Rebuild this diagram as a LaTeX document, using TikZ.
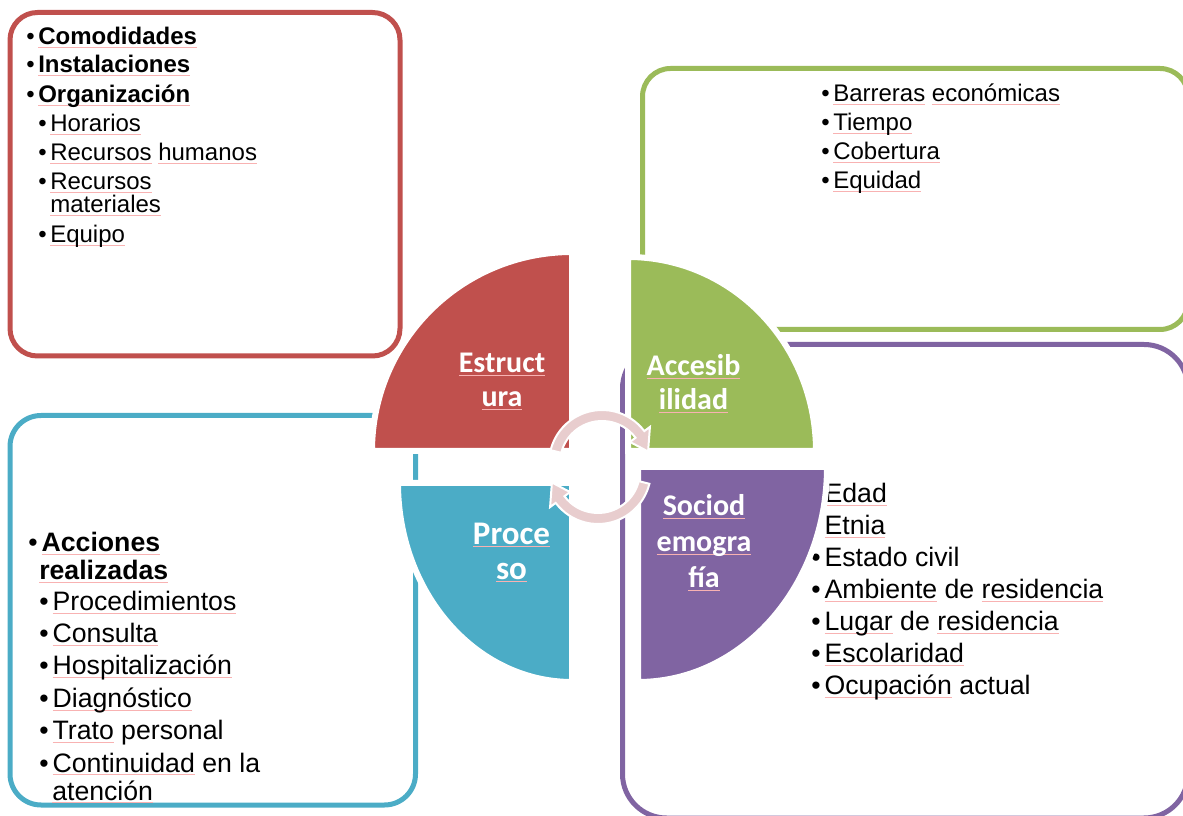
\documentclass[tikz,border=0pt]{standalone}
\usepackage{fontspec}
\setmainfont{Liberation Sans}
\newfontfamily\calibri{Carlito}
\usetikzlibrary{calc}

\definecolor{estred}{RGB}{192,80,77}
\definecolor{accgreen}{RGB}{155,187,89}
\definecolor{socpurple}{RGB}{128,100,162}
\definecolor{problue}{RGB}{75,172,198}
\definecolor{cyclepink}{RGB}{232,205,206}
\definecolor{squig}{RGB}{248,178,178}

% spelling underline under a word, keeps the text colour
\newcommand{\sq}[1]{\leavevmode\setbox0\hbox{#1}%
  \rlap{\color{squig}\rule[-2.4pt]{\wd0}{0.6pt}}\box0\relax}
\newcommand{\bul}{\makebox[0.5em][l]{\textbullet}}

\tikzset{
  box/.style={line width=3.75pt},
  quarter/.style={draw=white, line width=4.5pt},
  lbl/.style={text=white, align=center, inner sep=0pt},
  small/.style={anchor=base west, inner sep=0pt, font=\fontsize{18}{21}\selectfont},
  big/.style={anchor=base west, inner sep=0pt, font=\fontsize{20}{24}\selectfont},
  cyc/.style={fill=cyclepink, draw=white, line width=1.5pt},
}

\begin{document}
\begin{tikzpicture}[x=0.75pt,y=0.75pt]
  \useasboundingbox (0,0) rectangle (1183,815);

  % outer boxes
  \draw[box, estred, rounded corners=20.6pt] (10,802.5) rectangle (400,459);
  \draw[box, accgreen, rounded corners=21pt] (642.5,746.5) rectangle (1188,485.5);
  \draw[box, socpurple, rounded corners=33pt] (622.5,470.5) rectangle (1188,-3);
  \draw[box, problue, rounded corners=23.25pt] (10,399.5) rectangle (415.5,10);

  % lists
  \foreach \x/\y/\t [count=\i] in {
      26/770/{\bul\sq{\textbf{Comodidades}}},
      26/742/{\bul\sq{\textbf{Instalaciones}}},
      26/712/{\bul\sq{\textbf{Organización}}},
      38/683/{\bul\sq{Horarios}},
      38/654/{\bul\sq{Recursos} \sq{humanos}},
      38/625/{\bul\sq{Recursos}},
      50/602/{\sq{materiales}},
      38/572/{\bul\sq{Equipo}}}
    \node[small] (est-\i) at (\x,\y) {\t};

  \foreach \y/\t [count=\i] in {
      713/{\sq{Barreras} \sq{económicas}},
      684/{\sq{Tiempo}},
      655/{\sq{Cobertura}},
      626/{\sq{Equidad}}}
    \node[small] (acc-\i) at (821,\y) {\bul\t};

  \foreach \y/\t [count=\i] in {
      312/{\sq{Edad}},
      280/{\sq{Etnia}},
      248/{Estado civil},
      216/{\sq{Ambiente} de \sq{residencia}},
      184/{\sq{Lugar} de \sq{residencia}},
      152/{\sq{Escolaridad}},
      120/{\sq{Ocupación} actual}}
    \node[big] (soc-\i) at (811,\y) {\bul\t};

  \foreach \x/\y/\t [count=\i] in {
      28/263/{\bul\sq{\textbf{Acciones}}},
      39/235/{\sq{\textbf{realizadas}}},
      39/204/{\bul\sq{Procedimientos}},
      39/172/{\bul\sq{Consulta}},
      39/140/{\bul\sq{Hospitalización}},
      39/107/{\bul\sq{Diagnóstico}},
      39/75/{\bul\sq{Trato} personal},
      39/43/{\bul\sq{Continuidad} en la},
      52/15/{\sq{atención}}}
    \node[big] (pro-\i) at (\x,\y) {\t};

  % quarter pieces
  \path[quarter, fill=estred] (572,364) -- (372,364)
    arc[start angle=180, end angle=90, x radius=200, y radius=199] -- cycle;
  \path[quarter, fill=accgreen] (628,364) -- (628,558)
    arc[start angle=90, end angle=0, x radius=188, y radius=194] -- cycle;
  \path[quarter, fill=socpurple] (638,348) -- (827,348)
    arc[start angle=0, end angle=-90, x radius=189, y radius=215] -- cycle;
  \path[quarter, fill=problue] (572,332) -- (572,133)
    arc[start angle=-90, end angle=-180, x radius=174, y radius=199] -- cycle;

  \node[lbl, font=\calibri\bfseries\fontsize{22.5}{25.5}\selectfont] (estructura) at (502,434) {\sq{Estruct}\\\sq{ura}};
  \node[lbl, font=\calibri\bfseries\fontsize{22.5}{25.5}\selectfont] (accesibilidad) at (693.5,431.5) {\sq{Accesib}\\\sq{ilidad}};
  \node[lbl, font=\calibri\bfseries\fontsize{22.5}{27}\selectfont] (sociodemografia) at (704,272.5) {\sq{Sociod}\\\sq{emogra}\\\sq{fía}};
  \node[lbl, font=\calibri\bfseries\fontsize{24.75}{26.25}\selectfont] (proceso) at (511.5,262.5) {\sq{Proce}\\\sq{so}};

  % cycle arrows
  \coordinate (tc) at (602,352);
  \coordinate (bc) at (598,344);
  \path[cyc] ($(tc)+(166:53)$) arc[start angle=166, end angle=37, radius=53]
    -- ($(tc)+(37:60)$) -- ($(tc)+(14:47.5)$) -- ($(tc)+(37:35)$) -- ($(tc)+(37:42)$)
    arc[start angle=37, end angle=166, radius=42] -- cycle;
  \path[cyc] ($(bc)+(-14:53)$) arc[start angle=-14, end angle=-143, radius=53]
    -- ($(bc)+(-143:60)$) -- ($(bc)+(-166:47.5)$) -- ($(bc)+(-143:35)$) -- ($(bc)+(-143:42)$)
    arc[start angle=-143, end angle=-14, radius=42] -- cycle;
\end{tikzpicture}
\end{document}
